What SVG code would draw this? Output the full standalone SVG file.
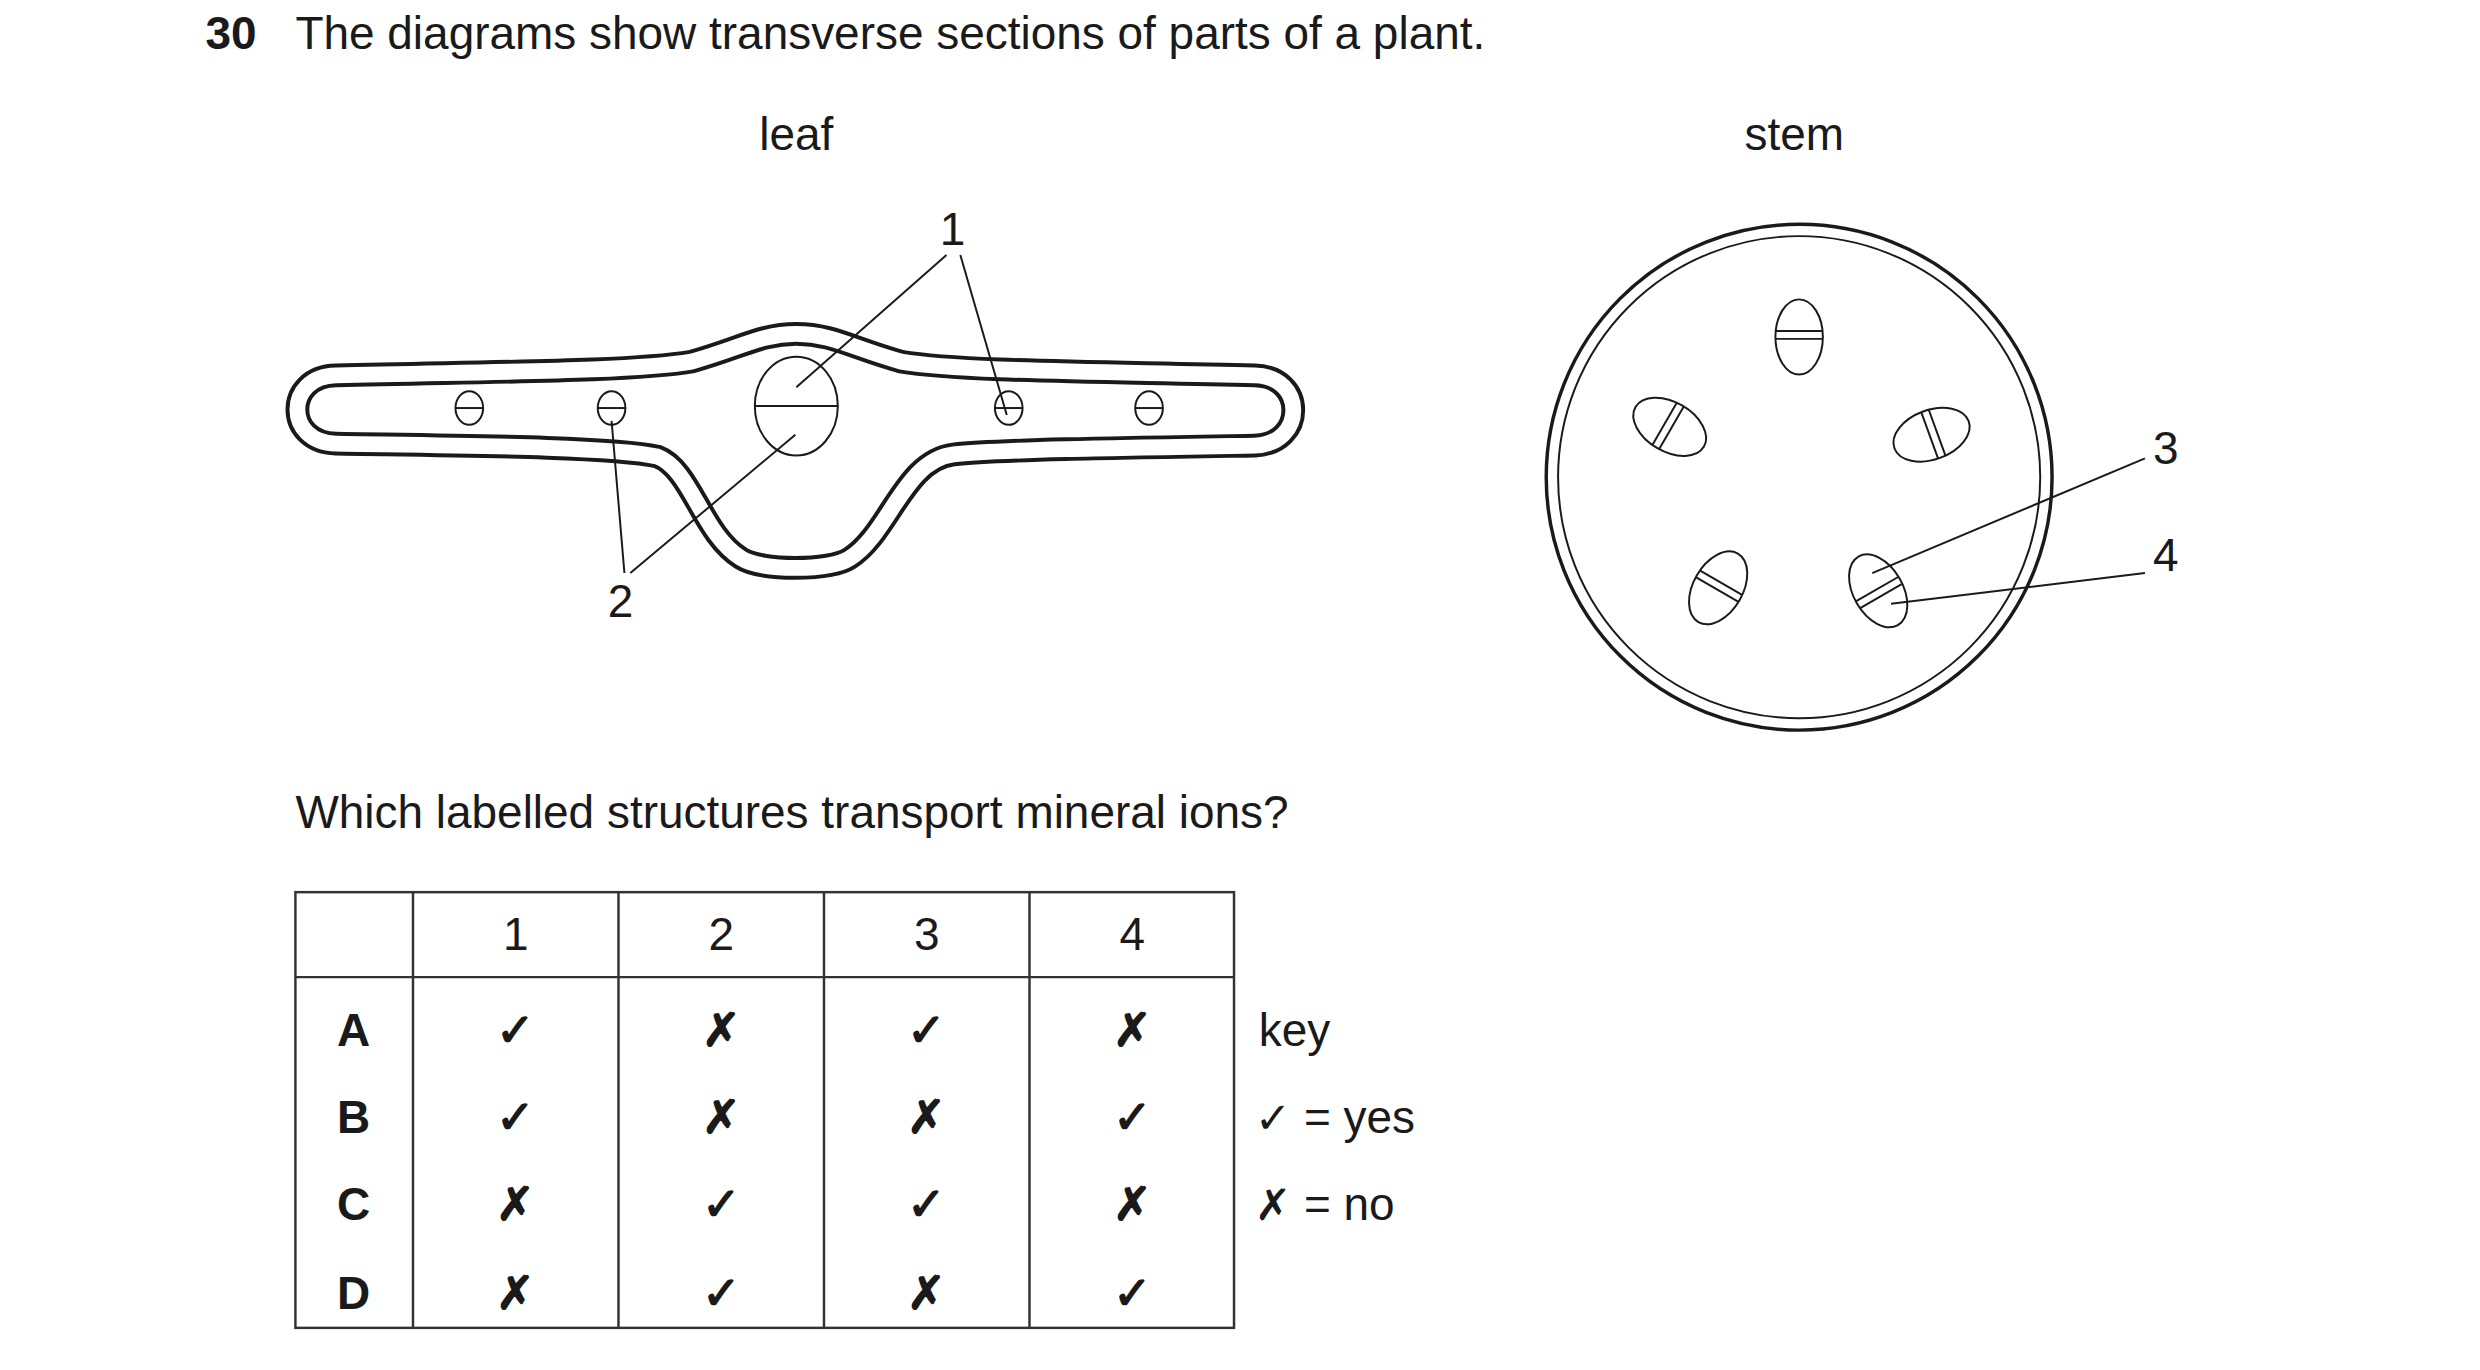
<svg xmlns="http://www.w3.org/2000/svg" width="2480" height="1370" viewBox="0 0 2480 1370">
<defs>
<path id="leafpath" d="M340,380 C500,376 640,376 700,366 C750,352 770,338 806,338 C842,338 862,352 912,366 C972,376 1110,376 1270,380 C1322,381 1322,449 1270,451 C1150,453 1010,455 965,460 C915,466 900,540 860,565 C840,578 770,578 750,565 C710,540 700,475 665,462 C620,452 460,451 340,449 C288,448 288,381 340,380 Z"/>
</defs>
<style>
text{font-family:"Liberation Sans",Arial,sans-serif;font-size:46.5px;fill:#1a1a1a}
.b{font-weight:bold}
.sym{font-family:"DejaVu Sans",sans-serif;font-size:44px;font-weight:bold}
.ln{stroke:#1a1a1a;stroke-width:2;fill:none}
.th{stroke:#1a1a1a;stroke-width:3.5;fill:none}
.cell{stroke:#333;stroke-width:2.5;fill:none}
</style>
<rect width="2480" height="1370" fill="#fff"/>
<g transform="scale(0.988)">
<text x="208" y="50" class="b">30</text>
<text x="299" y="50">The diagrams show transverse sections of parts of a plant.</text>
<text x="806" y="152" text-anchor="middle">leaf</text>
<text x="1816" y="152" text-anchor="middle">stem</text>

<g id="leaf">
<use href="#leafpath" fill="#fff" stroke="#1a1a1a" stroke-width="24"/>
<use href="#leafpath" fill="none" stroke="#fff" stroke-width="16"/>
<g class="ln" stroke-width="3">
<ellipse cx="806" cy="411" rx="42" ry="50"/><line x1="764" y1="411" x2="848" y2="411"/>
<ellipse cx="475" cy="413" rx="14" ry="17"/><line x1="461" y1="413" x2="489" y2="413"/>
<ellipse cx="619" cy="413" rx="14" ry="17"/><line x1="605" y1="413" x2="633" y2="413"/>
<ellipse cx="1021" cy="413" rx="14" ry="17"/><line x1="1007" y1="413" x2="1035" y2="413"/>
<ellipse cx="1163" cy="413" rx="14" ry="17"/><line x1="1149" y1="413" x2="1177" y2="413"/>
</g>
</g>

<g id="stem">
<circle cx="1821" cy="483" r="256" class="th" stroke-width="5"/>
<circle cx="1821" cy="483" r="244" class="ln" stroke-width="3"/>
<g transform="translate(1821,341)"><ellipse rx="24" ry="38" class="ln" stroke-width="3"/><line x1="-24" y1="-6" x2="24" y2="-6" class="ln"/><line x1="-24" y1="2" x2="24" y2="2" class="ln"/></g>
<g transform="translate(1690,432) rotate(-60)"><ellipse rx="25" ry="40" class="ln" stroke-width="3"/><line x1="-25" y1="-6" x2="25" y2="-6" class="ln"/><line x1="-25" y1="2" x2="25" y2="2" class="ln"/></g>
<g transform="translate(1955,440) rotate(70)"><ellipse rx="25" ry="40" class="ln" stroke-width="3"/><line x1="-25" y1="-6" x2="25" y2="-6" class="ln"/><line x1="-25" y1="2" x2="25" y2="2" class="ln"/></g>
<g transform="translate(1739,595) rotate(30)"><ellipse rx="25" ry="40" class="ln" stroke-width="3"/><line x1="-25" y1="-6" x2="25" y2="-6" class="ln"/><line x1="-25" y1="2" x2="25" y2="2" class="ln"/></g>
<g transform="translate(1901,598) rotate(-30)"><ellipse rx="25" ry="40" class="ln" stroke-width="3"/><line x1="-25" y1="-2" x2="25" y2="-2" class="ln"/><line x1="-25" y1="6" x2="25" y2="6" class="ln"/></g>
</g>

<g id="connectors" class="ln">
<line x1="958" y1="258" x2="806" y2="392"/>
<line x1="972" y1="258" x2="1019" y2="420"/>
<line x1="632" y1="580" x2="619" y2="426"/>
<line x1="638" y1="580" x2="805" y2="440"/>
<line x1="2171" y1="464" x2="1895" y2="580"/>
<line x1="2171" y1="580" x2="1914" y2="611"/>
</g>
<g id="labels">
<text x="964" y="248" text-anchor="middle">1</text>
<text x="628" y="624" text-anchor="middle">2</text>
<text x="2192" y="470" text-anchor="middle">3</text>
<text x="2192" y="578" text-anchor="middle">4</text>
</g>

<text x="299" y="838">Which labelled structures transport mineral ions?</text>

<g id="table">
<rect x="299" y="903" width="950" height="441" class="cell"/>
<line x1="299" y1="989" x2="1249" y2="989" class="cell"/>
<line x1="418" y1="903" x2="418" y2="1344" class="cell"/>
<line x1="626" y1="903" x2="626" y2="1344" class="cell"/>
<line x1="834" y1="903" x2="834" y2="1344" class="cell"/>
<line x1="1042" y1="903" x2="1042" y2="1344" class="cell"/>
<g text-anchor="middle">
<text x="522" y="962">1</text><text x="730" y="962">2</text><text x="938" y="962">3</text><text x="1146" y="962">4</text>
<text x="358" y="1059" class="b">A</text><text x="358" y="1147" class="b">B</text><text x="358" y="1235" class="b">C</text><text x="358" y="1325" class="b">D</text>
<g class="sym">
<text x="522" y="1059">✓</text><text x="730" y="1059">✗</text><text x="938" y="1059">✓</text><text x="1146" y="1059">✗</text>
<text x="522" y="1147">✓</text><text x="730" y="1147">✗</text><text x="938" y="1147">✗</text><text x="1146" y="1147">✓</text>
<text x="522" y="1235">✗</text><text x="730" y="1235">✓</text><text x="938" y="1235">✓</text><text x="1146" y="1235">✗</text>
<text x="522" y="1325">✗</text><text x="730" y="1325">✓</text><text x="938" y="1325">✗</text><text x="1146" y="1325">✓</text>
</g>
</g>
</g>
<g id="key">
<text x="1274" y="1059">key</text>
<text x="1270" y="1147"><tspan class="sym">✓</tspan> = yes</text>
<text x="1270" y="1235"><tspan class="sym">✗</tspan> = no</text>
</g>
</g>
</svg>
